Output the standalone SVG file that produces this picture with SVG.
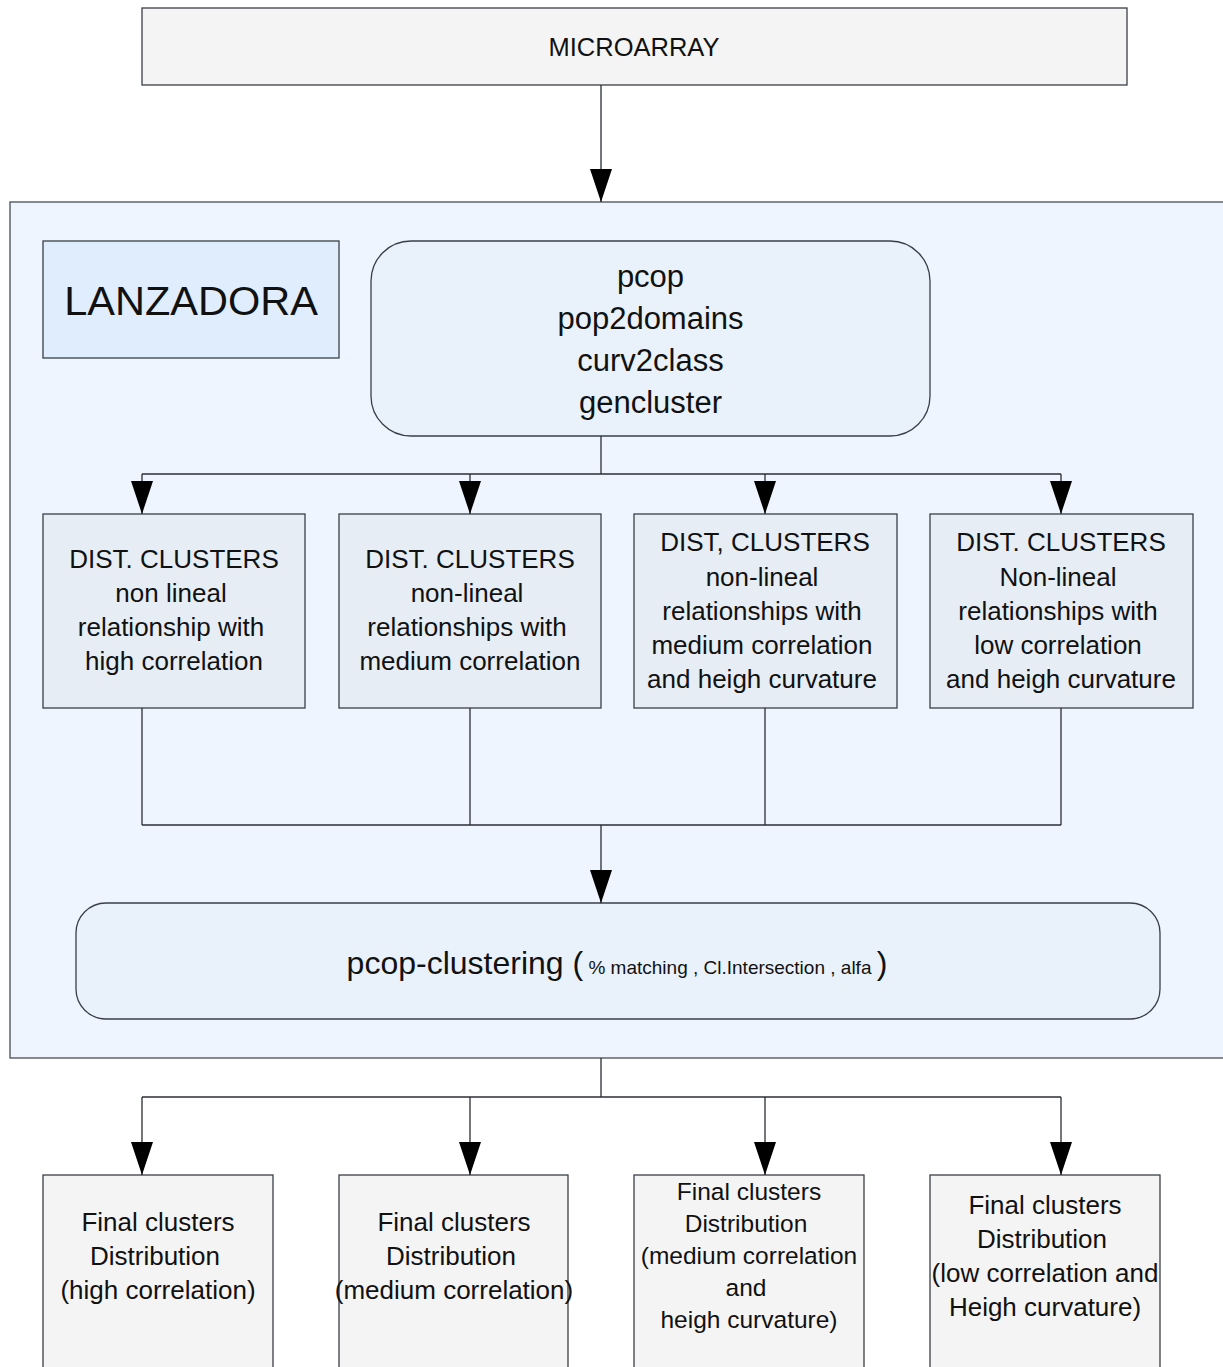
<svg xmlns="http://www.w3.org/2000/svg" width="1223" height="1367" viewBox="0 0 1223 1367">
  <defs>
    <marker id="arrow" markerWidth="33" markerHeight="22" refX="33" refY="11" orient="auto" markerUnits="userSpaceOnUse" viewBox="0 0 33 22">
      <path d="M0,0 L33,11 L0,22 Z" fill="#000"/>
    </marker>
    <style>
      text { font-family: "Liberation Sans", Arial, sans-serif; fill: #111; text-anchor: middle; }
      .box { stroke: #3a3f47; stroke-width: 1.3; }
      .plain { fill: #f4f4f4; }
      .dist { fill: #e6edf5; }
      .wire { fill: none; stroke: #2a2e33; stroke-width: 1.3; }
      .t26 { font-size: 26px; }
      .t32 { font-size: 31px; }
    </style>
  </defs>

  <rect width="1223" height="1367" fill="#ffffff"/>

  <g id="microarray">
    <rect class="box plain" x="142" y="8" width="985" height="77"/>
    <text x="634" y="56" font-size="25.5px">MICROARRAY</text>
  </g>

  <g id="lanzadora-frame">
    <rect x="10" y="202" width="1225" height="856" fill="#eef5fe" stroke="#555b63" stroke-width="1.4"/>
  </g>

  <g id="lanzadora">
    <rect class="box" x="43" y="241" width="296" height="117" fill="#e0edfc"/>
    <text x="191" y="315" font-size="41.5px">LANZADORA</text>
  </g>

  <g id="tools">
    <rect class="box" x="371" y="241" width="559" height="195" rx="40" ry="40" fill="#e9f1fa"/>
    <text class="t32" x="650.5" y="287">pcop</text>
    <text class="t32" x="650.5" y="329">pop2domains</text>
    <text class="t32" x="650.5" y="371">curv2class</text>
    <text class="t32" x="650.5" y="413">gencluster</text>
  </g>

  <g id="dist-high">
    <rect class="box dist" x="43" y="514" width="262" height="194"/>
    <text class="t26" x="174" y="568">DIST. CLUSTERS</text>
    <text class="t26" x="171" y="602">non lineal</text>
    <text class="t26" x="171" y="636">relationship with</text>
    <text class="t26" x="174" y="670">high correlation</text>
  </g>

  <g id="dist-medium">
    <rect class="box dist" x="339" y="514" width="262" height="194"/>
    <text class="t26" x="470" y="568">DIST. CLUSTERS</text>
    <text class="t26" x="467" y="602">non-lineal</text>
    <text class="t26" x="467" y="636">relationships with</text>
    <text class="t26" x="470" y="670">medium correlation</text>
  </g>

  <g id="dist-medium-curv">
    <rect class="box dist" x="634" y="514" width="263" height="194"/>
    <text class="t26" x="765" y="551">DIST, CLUSTERS</text>
    <text class="t26" x="762" y="586">non-lineal</text>
    <text class="t26" x="762" y="620">relationships with</text>
    <text class="t26" x="762" y="654">medium correlation</text>
    <text class="t26" x="762" y="688">and heigh curvature</text>
  </g>

  <g id="dist-low-curv">
    <rect class="box dist" x="930" y="514" width="263" height="194"/>
    <text class="t26" x="1061" y="551">DIST. CLUSTERS</text>
    <text class="t26" x="1058" y="586">Non-lineal</text>
    <text class="t26" x="1058" y="620">relationships with</text>
    <text class="t26" x="1058" y="654">low correlation</text>
    <text class="t26" x="1061" y="688">and heigh curvature</text>
  </g>

  <g id="pcop-clustering">
    <rect class="box" x="76" y="903" width="1084" height="116" rx="30" ry="30" fill="#e9f1fa"/>
    <text x="617" y="974" font-size="32px">pcop-clustering <tspan>(</tspan><tspan font-size="19px"> % matching , Cl.Intersection , alfa </tspan><tspan>)</tspan></text>
  </g>

  <g id="final-high">
    <rect class="box plain" x="43" y="1175" width="230" height="200"/>
    <text class="t26" x="158" y="1231">Final clusters</text>
    <text class="t26" x="155" y="1265">Distribution</text>
    <text class="t26" x="158" y="1299">(high correlation)</text>
  </g>

  <g id="final-medium">
    <rect class="box plain" x="339" y="1175" width="229" height="200"/>
    <text class="t26" x="454" y="1231">Final clusters</text>
    <text class="t26" x="451" y="1265">Distribution</text>
    <text class="t26" x="454" y="1299">(medium correlation)</text>
  </g>

  <g id="final-medium-curv">
    <rect class="box plain" x="634" y="1175" width="230" height="200"/>
    <text x="749" y="1200" font-size="24.5px">Final clusters</text>
    <text x="746" y="1232" font-size="24.5px">Distribution</text>
    <text x="749" y="1264" font-size="24.5px">(medium correlation</text>
    <text x="746" y="1296" font-size="24.5px">and</text>
    <text x="749" y="1328" font-size="24.5px">heigh curvature)</text>
  </g>

  <g id="final-low-curv">
    <rect class="box plain" x="930" y="1175" width="230" height="200"/>
    <text class="t26" x="1045" y="1214">Final clusters</text>
    <text class="t26" x="1042" y="1248">Distribution</text>
    <text class="t26" x="1045" y="1282">(low correlation and</text>
    <text class="t26" x="1045" y="1316">Heigh curvature)</text>
  </g>

  <g id="connectors">
    <!-- microarray into the launcher frame -->
    <line class="wire" x1="601" y1="85" x2="601" y2="202" marker-end="url(#arrow)"/>
    <!-- tools fan out to the four distance sets -->
    <polyline class="wire" points="601,436 601,474"/>
    <line class="wire" x1="142" y1="474" x2="1061" y2="474"/>
    <line class="wire" x1="142" y1="474" x2="142" y2="514" marker-end="url(#arrow)"/>
    <line class="wire" x1="470" y1="474" x2="470" y2="514" marker-end="url(#arrow)"/>
    <line class="wire" x1="765" y1="474" x2="765" y2="514" marker-end="url(#arrow)"/>
    <line class="wire" x1="1061" y1="474" x2="1061" y2="514" marker-end="url(#arrow)"/>
    <!-- distance sets gather into pcop-clustering -->
    <line class="wire" x1="142" y1="708" x2="142" y2="825"/>
    <line class="wire" x1="470" y1="708" x2="470" y2="825"/>
    <line class="wire" x1="765" y1="708" x2="765" y2="825"/>
    <line class="wire" x1="1061" y1="708" x2="1061" y2="825"/>
    <line class="wire" x1="142" y1="825" x2="1061" y2="825"/>
    <line class="wire" x1="601" y1="825" x2="601" y2="903" marker-end="url(#arrow)"/>
    <!-- frame out to the final distributions -->
    <line class="wire" x1="601" y1="1058" x2="601" y2="1097"/>
    <line class="wire" x1="142" y1="1097" x2="1061" y2="1097"/>
    <line class="wire" x1="142" y1="1097" x2="142" y2="1175" marker-end="url(#arrow)"/>
    <line class="wire" x1="470" y1="1097" x2="470" y2="1175" marker-end="url(#arrow)"/>
    <line class="wire" x1="765" y1="1097" x2="765" y2="1175" marker-end="url(#arrow)"/>
    <line class="wire" x1="1061" y1="1097" x2="1061" y2="1175" marker-end="url(#arrow)"/>
  </g>
</svg>
